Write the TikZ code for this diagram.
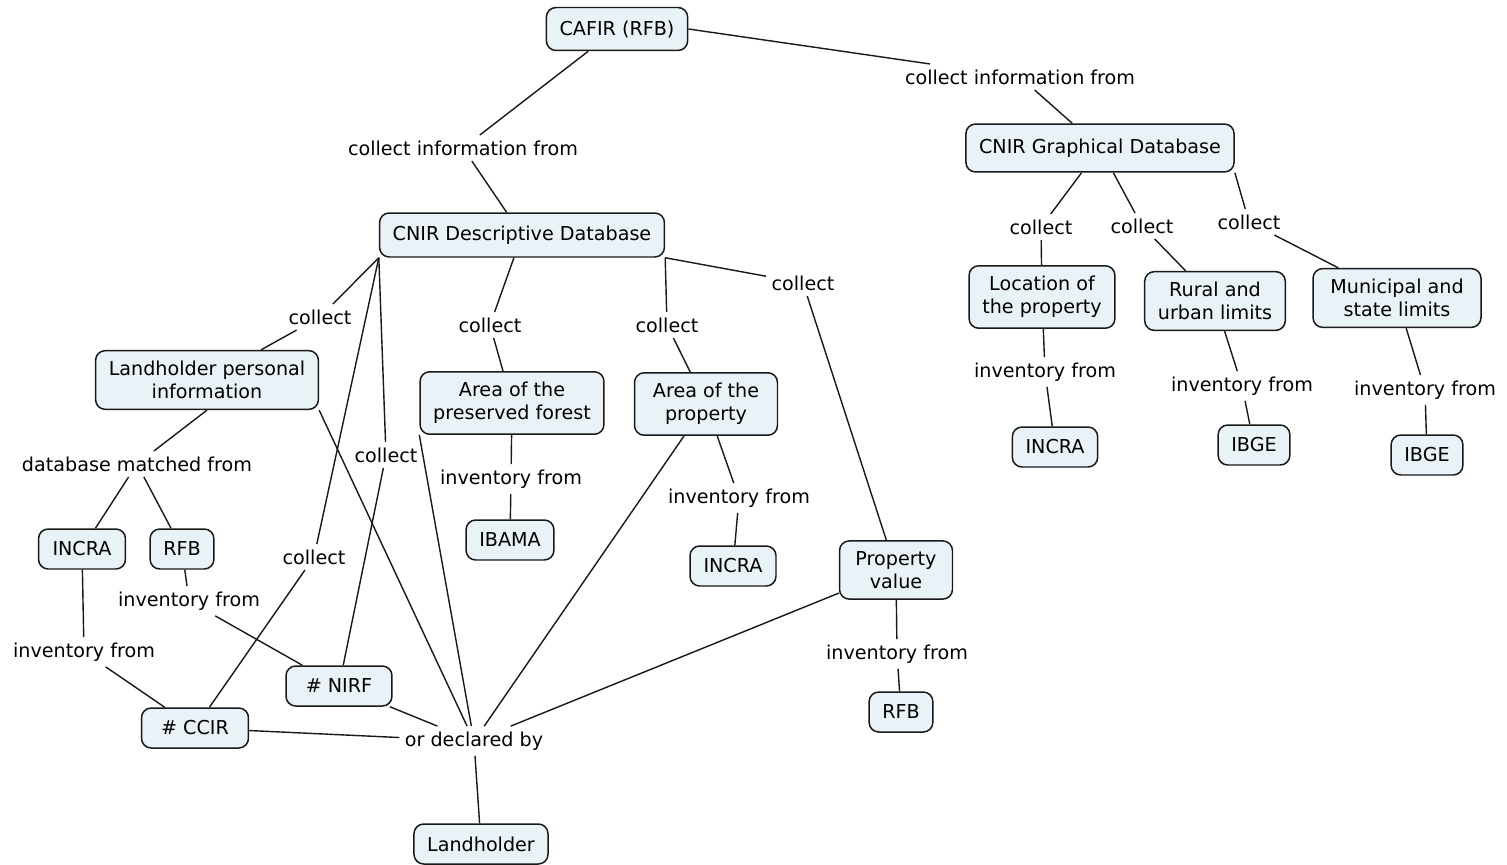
\documentclass[tikz,border=0pt]{standalone}
\usepackage{fontspec}
\setmainfont{DejaVu Sans}
\usepackage{xcolor}
\usepackage{tikz}

\definecolor{cmapfill}{RGB}{233,242,246}
\definecolor{cmapline}{RGB}{25,25,25}

\begin{document}
\begin{tikzpicture}[
    x=0.02cm, y=-0.02cm,
    concept/.style={rectangle, rounded corners=5.5pt, draw=cmapline, line width=0.85pt, fill=cmapfill, align=center, inner xsep=7.5pt, inner ysep=6pt, minimum height=0.8cm, font=\fontsize{10.9}{13}\selectfont},
    linking/.style={inner sep=3pt, align=center, font=\fontsize{10.9}{13}\selectfont},
    link/.style={draw=cmapline, line width=0.8pt}
]
\fill[white] (0,0) rectangle (1507,865);
\useasboundingbox (0,0) rectangle (1507,865);

% concepts
\node[concept, minimum height=0.86cm] (cafir) at (617,29) {CAFIR (RFB)};
\node[concept, minimum height=0.96cm] (graphdb) at (1100,148) {CNIR Graphical Database};
\node[concept, minimum height=0.88cm] (descdb) at (522,235) {CNIR Descriptive Database};

\node[concept] (location) at (1042,297) {Location of\\the property};
\node[concept] (rural) at (1215,301) {Rural and\\urban limits};
\node[concept, minimum width=3.36cm] (municipal) at (1397,298) {Municipal and\\state limits};
\node[concept] (incraloc) at (1055,447) {INCRA};
\node[concept] (ibgerural) at (1254,445) {IBGE};
\node[concept] (ibgemun) at (1427,455) {IBGE};

\node[concept] (personal) at (207,380) {Landholder personal\\information};
\node[concept] (forest) at (512,403) {Area of the\\preserved forest};
\node[concept, minimum width=2.86cm] (area) at (706,404) {Area of the\\property};
\node[concept, minimum width=2.26cm] (value) at (896,570) {Property\\value};
\node[concept, minimum width=1.74cm] (incrapers) at (82,549) {INCRA};
\node[concept] (rfbpers) at (182,549) {RFB};
\node[concept] (ibama) at (510,540) {IBAMA};
\node[concept, minimum width=1.72cm] (incraarea) at (733,566) {INCRA};
\node[concept] (rfbvalue) at (901,712) {RFB};
\node[concept, minimum width=2.12cm] (nirf) at (339,686) {\# NIRF};
\node[concept, minimum width=2.14cm] (ccir) at (195,728) {\# CCIR};
\node[concept] (landholder) at (481,844) {Landholder};

% linking phrases
\node[linking] (infoleft) at (463,148) {collect information from};
\node[linking] (inforight) at (1020,77) {collect information from};
\node[linking] (colloc) at (1041,227) {collect};
\node[linking] (colrural) at (1142,226) {collect};
\node[linking] (colmun) at (1249,222) {collect};
\node[linking] (invloc) at (1045,372) {inventory from};
\node[linking] (invrural) at (1242,386) {inventory from};
\node[linking] (invmun) at (1425,390) {inventory from};
\node[linking] (colpers) at (320,317) {collect};
\node[linking] (colforest) at (490,325) {collect};
\node[linking] (colarea) at (667,325) {collect};
\node[linking] (colvalue) at (803,283) {collect};
\node[linking] (colnirf) at (386,455) {collect};
\node[linking] (colccir) at (314,557) {collect};
\node[linking] (matched) at (137,464) {database matched from};
\node[linking] (invrfb) at (189,601) {inventory from};
\node[linking] (invincra) at (84,652) {inventory from};
\node[linking] (invforest) at (511,479) {inventory from};
\node[linking] (invarea) at (739,498) {inventory from};
\node[linking] (invvalue) at (897,654) {inventory from};
\node[linking] (declared) at (474,741) {or declared by};

% connectors
\draw[link] (cafir) -- (infoleft) -- (descdb);
\draw[link] (cafir.east) -- (inforight) -- (graphdb);

\draw[link] (graphdb) -- (colloc) -- (location);
\draw[link] (graphdb) -- (colrural) -- (rural);
\draw[link] (graphdb.south east) -- (colmun) -- (municipal);
\draw[link] (location) -- (invloc) -- (incraloc);
\draw[link] (rural) -- (invrural) -- (ibgerural);
\draw[link] (municipal) -- (invmun) -- (ibgemun);

\draw[link] (descdb.south west) -- (colpers) -- (personal);
\draw[link] (descdb) -- (colforest) -- (forest);
\draw[link] (descdb.south east) -- (colarea) -- (area);
\draw[link] (descdb.south east) -- (colvalue) -- (value);
\draw[link] (descdb.south west) -- (colnirf) -- (nirf);
\draw[link] (descdb.south west) -- (colccir) -- (ccir);

\draw[link] (personal.south) -- (matched) -- (incrapers);
\draw[link] (matched) -- (rfbpers);
\draw[link] (rfbpers) -- (invrfb) -- (nirf);
\draw[link] (incrapers) -- (invincra) -- (ccir);
\draw[link] (forest) -- (invforest) -- (ibama);
\draw[link] (area) -- (invarea) -- (incraarea);
\draw[link] (value) -- (invvalue) -- (rfbvalue);

\draw[link] (personal.south east) -- (declared);
\draw[link] (forest.south west) -- (declared);
\draw[link] (area) -- (declared);
\draw[link] (value) -- (declared);
\draw[link] (nirf) -- (declared);
\draw[link] (ccir) -- (declared);
\draw[link] (declared) -- (landholder);
\end{tikzpicture}
\end{document}
